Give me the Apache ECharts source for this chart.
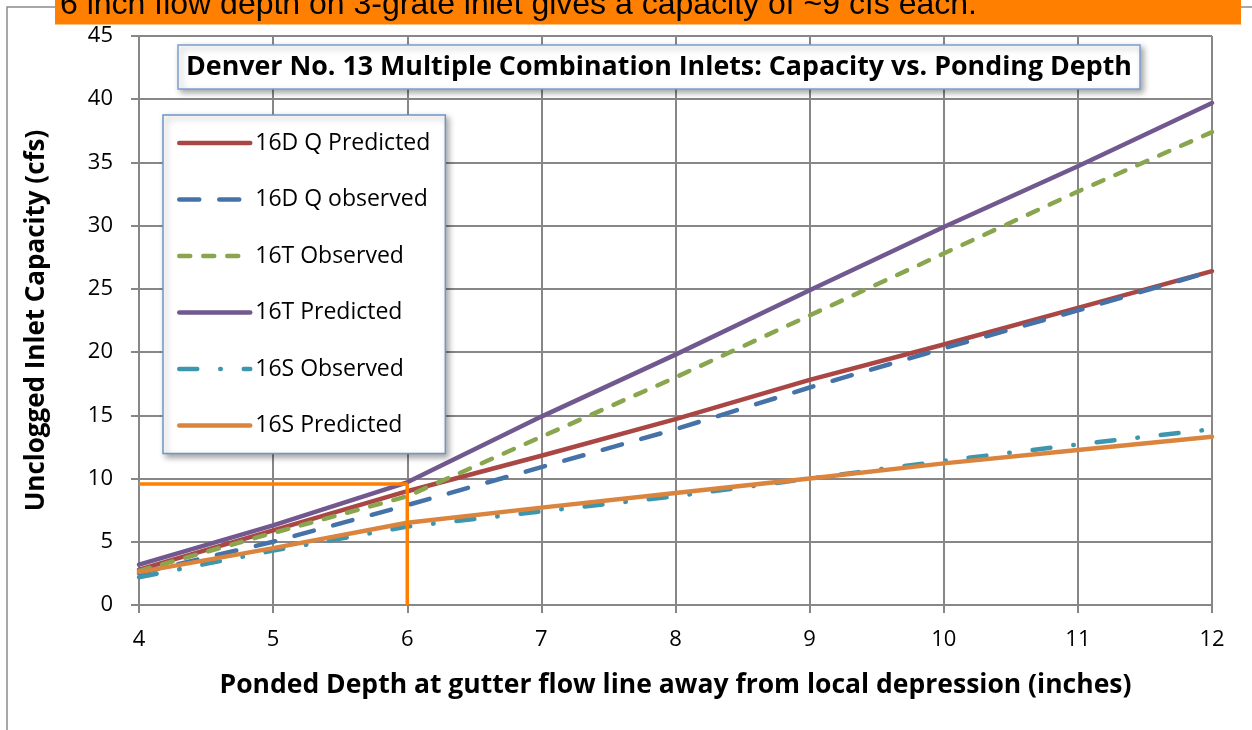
<!DOCTYPE html>
<html>
<head>
<meta charset="utf-8">
<script src="https://cdn.jsdelivr.net/npm/echarts@6/dist/echarts.min.js"></script>
<style>
html,body{margin:0;padding:0;background:#fff;}
#chart{width:1252px;height:730px;}
</style>
</head>
<body>
<div id="chart"></div>
<script>
// ---- data ----
const depths = [4, 5, 6, 7, 8, 9, 10, 11, 12];
const q16DPredicted = [2.8, 5.9, 9.0, 11.8, 14.7, 17.8, 20.6, 23.5, 26.4];
const q16DObserved  = [2.5, 5.0, 7.9, 10.9, 13.9, 17.2, 20.3, 23.3, 26.4];
const q16TObserved  = [2.7, 5.7, 8.6, 13.3, 18.0, 22.9, 27.8, 32.7, 37.4];
const q16TPredicted = [3.2, 6.3, 9.7, 14.9, 19.8, 24.9, 29.9, 34.7, 39.7];
const q16SObserved  = [2.2, 4.3, 6.2, 7.4, 8.6, 10.0, 11.4, 12.7, 13.9];
const q16SPredicted = [2.6, 4.5, 6.5, 7.7, 8.85, 10.0, 11.2, 12.25, 13.3];
const seriesNames = ['16D Q Predicted', '16D Q observed', '16T Observed', '16T Predicted', '16S Observed', '16S Predicted'];
const guideX = [4, 6, 6];
const guideY = [9.57, 9.57, 0];
const titleText = 'Denver No. 13 Multiple Combination Inlets: Capacity vs. Ponding Depth';
const bannerText = '6 inch flow depth on 3-grate inlet gives a capacity of ~9 cfs each.';
const xTitle = 'Ponded Depth at gutter flow line away from local depression (inches)';
const yTitle = 'Unclogged Inlet Capacity (cfs)';

const pair = (xs, ys) => xs.map((x, i) => [x, ys[i]]);

const FONT = '"Open Sans", "Noto Sans", sans-serif';
const GRID = '#878787';

const styles = [
  {color: '#AA4643', type: 'solid'},
  {color: '#4572A7', type: [20, 20]},
  {color: '#89A54E', type: [11, 13]},
  {color: '#71588F', type: 'solid'},
  {color: '#3D96AE', type: [18, 23, 0.5, 23]},
  {color: '#DB843D', type: 'solid'}
];
const valueSets = [q16DPredicted, q16DObserved, q16TObserved, q16TPredicted, q16SObserved, q16SPredicted];

const series = seriesNames.map((name, i) => ({
  name: name,
  type: 'line',
  data: pair(depths, valueSets[i]),
  symbol: 'none',
  smooth: false,
  color: styles[i].color,
  lineStyle: {color: styles[i].color, width: 4.5, type: styles[i].type, cap: 'round', join: 'round'},
  emphasis: {disabled: true},
  z: 3
}));
series.push({
  name: 'guide',
  type: 'line',
  data: pair(guideX, guideY),
  symbol: 'none',
  color: '#FF8000',
  lineStyle: {color: '#FF8000', width: 3.5},
  emphasis: {disabled: true},
  z: 4
});

const chart = echarts.init(document.getElementById('chart'), null, {renderer: 'canvas'});
chart.setOption({
  animation: false,
  backgroundColor: '#fff',
  textStyle: {fontFamily: FONT},
  grid: {left: 139, right: 40, top: 36, bottom: 125, containLabel: false},
  title: {
    text: titleText,
    left: 178, top: 45,
    padding: [7, 8, 7, 8],
    backgroundColor: '#fff',
    borderColor: '#7C9FCF',
    borderWidth: 1.5,
    shadowBlur: 6,
    shadowColor: 'rgba(0,0,0,0.35)',
    shadowOffsetX: 3,
    shadowOffsetY: 3,
    textStyle: {fontFamily: FONT, fontSize: 26.8, fontWeight: 'bold', color: '#000', lineHeight: 30}
  },
  legend: {
    data: seriesNames,
    orient: 'vertical',
    left: 163, top: 115,
    padding: [16, 15, 16, 14],
    itemWidth: 71, itemHeight: 14,
    itemGap: 32.5,
    itemStyle: {opacity: 0},
    lineStyle: {width: 4.5, cap: 'round'},
    backgroundColor: '#fff',
    borderColor: '#6F95C9',
    borderWidth: 1.5,
    shadowBlur: 6,
    shadowColor: 'rgba(0,0,0,0.35)',
    shadowOffsetX: 3,
    shadowOffsetY: 3,
    textStyle: {fontFamily: FONT, fontSize: 23, color: '#000', lineHeight: 24},
    selectedMode: false
  },
  xAxis: {
    type: 'value', min: 4, max: 12, interval: 1,
    name: xTitle, nameLocation: 'middle', nameGap: 67,
    nameTextStyle: {fontFamily: FONT, fontSize: 26.5, fontWeight: 'bold', color: '#000'},
    axisLine: {show: true, lineStyle: {color: GRID, width: 2}},
    axisTick: {show: true, length: 8, lineStyle: {color: GRID, width: 2}},
    axisLabel: {fontFamily: FONT, fontSize: 22, color: '#000', margin: 24},
    splitLine: {show: true, lineStyle: {color: GRID, width: 2}}
  },
  yAxis: {
    type: 'value', min: 0, max: 45, interval: 5,
    name: yTitle, nameLocation: 'middle', nameGap: 89, nameRotate: 90,
    nameTextStyle: {fontFamily: FONT, fontSize: 26, fontWeight: 'bold', color: '#000'},
    axisLine: {show: true, lineStyle: {color: GRID, width: 2}},
    axisTick: {show: true, length: 8, lineStyle: {color: GRID, width: 2}},
    axisLabel: {fontFamily: FONT, fontSize: 22, color: '#000', margin: 26},
    splitLine: {show: true, lineStyle: {color: GRID, width: 2}}
  },
  graphic: [
    {type: 'rect', z: -1, silent: true, shape: {x: 7, y: 7, width: 1300, height: 800},
     style: {fill: null, stroke: '#8C8C8C', lineWidth: 1.5}},
    {type: 'rect', z: 10, silent: true, shape: {x: 55, y: 0, width: 1186, height: 24.5},
     style: {fill: '#FF8000'}},
    {type: 'text', z: 11, silent: true, x: 60, y: 5,
     style: {text: bannerText, font: '32px "Liberation Sans", Arial, sans-serif', fill: '#000', verticalAlign: 'middle'}}
  ],
  series: series
});
</script>
</body>
</html>
